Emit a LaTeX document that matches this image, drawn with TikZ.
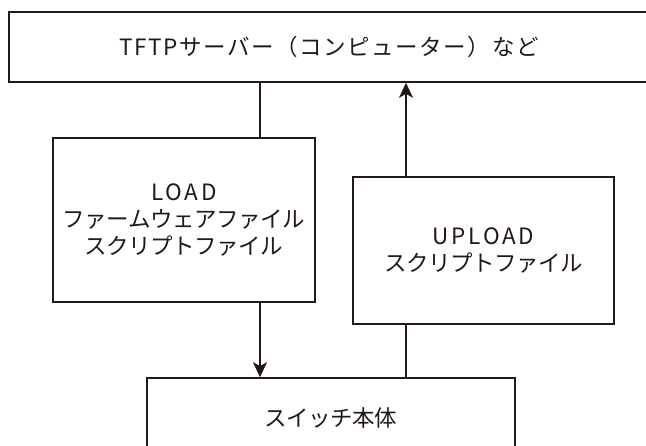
\documentclass[tikz,border=0pt]{standalone}
\usepackage{fontspec}
\usetikzlibrary{arrows.meta}
\newfontfamily\jpfont{Noto Sans CJK JP}[LetterSpace=-2]
\newfontfamily\jpwide{Noto Sans CJK JP}[LetterSpace=7]
\newfontfamily\latwide{Noto Sans CJK JP}[LetterSpace=12]
\definecolor{ink}{RGB}{35,24,21}

\begin{document}
\begin{tikzpicture}[x=1pt, y=-1pt, every node/.style={text=ink}]

	\tikzset{
	box/.style={draw=ink, line width=1.6pt, inner sep=0pt, align=center, font=\jpfont\fontsize{22.5}{27}\selectfont},
	link/.style={draw=ink, line width=1.6pt},
	flow/.style={link, -{Stealth[length=15pt, width=14pt, inset=4pt]}}
	}

	\useasboundingbox (0,0) rectangle (646,446);

	% Nodes
	\node[box, minimum width=640pt, minimum height=70pt, font=\jpwide\fontsize{22.5}{27}\selectfont] (server) at (329,47) {TFTPサーバー（コンピューター）など};
	\node[box, minimum width=262pt, minimum height=164pt] (load) at (184,220) {{\latwide LOAD}\\ファームウェアファイル\\スクリプトファイル};
	\node[box, minimum width=261pt, minimum height=147pt] (upload) at (483.5,250.5) {{\latwide UPLOAD}\\スクリプトファイル};
	\node[box, minimum width=368pt, minimum height=80pt] (switch) at (331,418) {スイッチ本体};

	\coordinate (dn) at (260,0);
	\coordinate (up) at (406,0);

	% Lines
	\draw[link] (server.south -| dn) -- (load.north -| dn);
	\draw[flow] (load.south -| dn) -- (switch.north -| dn);
	\draw[link] (switch.north -| up) -- (upload.south -| up);
	\draw[flow] (upload.north -| up) -- (server.south -| up);

\end{tikzpicture}
\end{document}
